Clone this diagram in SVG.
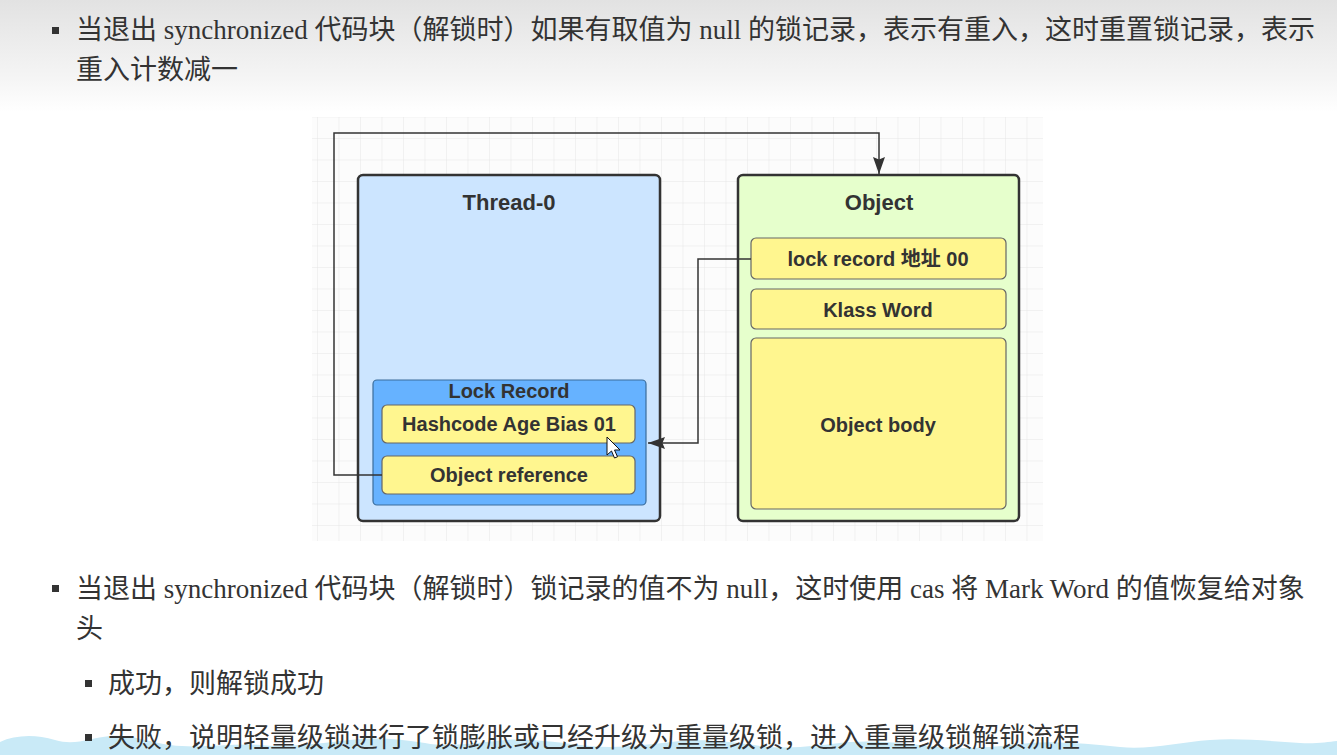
<svg xmlns="http://www.w3.org/2000/svg" width="1337" height="755" viewBox="0 0 1337 755">
<defs>
<linearGradient id="topShade" x1="0" y1="0" x2="0" y2="1">
<stop offset="0" stop-color="#e2e2e2"/>
<stop offset="0.7" stop-color="#f5f5f5"/>
<stop offset="1" stop-color="#ffffff"/>
</linearGradient>
<pattern id="grid" x="317" y="138" width="21.5" height="21.5" patternUnits="userSpaceOnUse">
<path d="M0,0 H21.5 M0,0 V21.5" fill="none" stroke="#e6e6e6" stroke-width="1"/>
</pattern>
<marker id="arr" viewBox="0 0 10 10" refX="10" refY="5" markerWidth="17" markerHeight="12" preserveAspectRatio="none" orient="auto" markerUnits="userSpaceOnUse">
<path d="M0,0 L10,5 L0,10 L1.5,5 z" fill="#333333"/>
</marker>
<style>
.para{font-family:"Liberation Serif","Noto Sans CJK SC",serif;font-size:27px;fill:#333333}
.bullet{fill:#333333}
.box{stroke:#333333;stroke-width:2.5}
.cell{fill:#fff68f;stroke:#666666;stroke-width:1.2}
.title{font-family:"Liberation Sans","Noto Sans CJK SC",sans-serif;font-weight:bold;font-size:22px;fill:#333333;text-anchor:middle}
.lbl{font-family:"Liberation Sans","Noto Sans CJK SC",sans-serif;font-weight:bold;font-size:20px;fill:#333333;text-anchor:middle}
.conn{fill:none;stroke:#333333;stroke-width:1.5}
</style>
</defs>

<rect x="0" y="0" width="1337" height="755" fill="#ffffff"/>
<rect x="0" y="0" width="1337" height="112" fill="url(#topShade)"/>

<!-- grid canvas -->
<rect x="312" y="117" width="731" height="424" fill="#fcfcfc"/>
<rect x="312" y="117" width="731" height="424" fill="url(#grid)"/>

<!-- paragraph 1 -->
<g id="para1">
<rect class="bullet" x="52" y="27" width="7" height="7"/>
<text class="para" x="76" y="39">当退出 synchronized 代码块（解锁时）如果有取值为 null 的锁记录，表示有重入，这时重置锁记录，表示</text>
<text class="para" x="76" y="79">重入计数减一</text>
</g>

<!-- diagram nodes -->
<g id="thread0">
<rect class="box" x="358" y="175" width="302" height="346" rx="5" fill="#cce5ff"/>
<text class="title" x="509" y="210">Thread-0</text>
</g>

<g id="lockRecord">
<rect x="373" y="380" width="273" height="125" rx="4" fill="#66b2ff" stroke="#3a6d9c" stroke-width="1.2"/>
<text class="lbl" x="509" y="398">Lock Record</text>
</g>

<g id="hashcode">
<rect class="cell" x="382" y="405" width="253" height="38" rx="5"/>
<text class="lbl" x="509" y="431">Hashcode Age Bias 01</text>
</g>

<g id="objectReference">
<rect class="cell" x="382" y="456" width="253" height="38" rx="5"/>
<text class="lbl" x="509" y="482">Object reference</text>
</g>

<g id="object">
<rect class="box" x="738" y="175" width="281" height="346" rx="5" fill="#e6ffcc"/>
<text class="title" x="879" y="210">Object</text>
</g>

<g id="lockRecordAddr">
<rect class="cell" x="751" y="238" width="255" height="41" rx="5"/>
<text class="lbl" x="878" y="266">lock record 地址 00</text>
</g>

<g id="klassWord">
<rect class="cell" x="751" y="289" width="255" height="40" rx="5"/>
<text class="lbl" x="878" y="317">Klass Word</text>
</g>

<g id="objectBody">
<rect class="cell" x="751" y="338" width="255" height="171" rx="5"/>
<text class="lbl" x="878" y="432">Object body</text>
</g>

<!-- connectors -->
<g id="connectors">
<path class="conn" d="M382,475 H334 V133 H879 V174" marker-end="url(#arr)"/>
<path class="conn" d="M751,259 H698 V443 H648" marker-end="url(#arr)"/>
</g>

<!-- mouse cursor -->
<path d="M607,437 L607,455 L611.5,451 L614.5,458 L617.5,456.8 L614.5,450 L620,450 Z" fill="#ffffff" stroke="#111111" stroke-width="1"/>

<!-- bottom wave decoration -->
<path d="M0,755 L0,742 C15,735 35,734 55,740 C75,746 90,738 110,736 C130,734 150,742 170,745 C200,749 230,743 260,745 C290,748 320,743 350,740 C375,737 400,739 425,743 C450,748 480,742 505,740 C530,738 560,743 590,746 C620,749 650,744 680,741 C705,739 735,742 760,746 C790,750 820,745 850,742 C880,740 910,744 940,747 C970,750 1000,746 1030,743 C1060,741 1090,744 1120,747 C1150,750 1180,742 1210,740 C1240,738 1270,741 1300,743 C1315,744 1328,742 1337,741 L1337,755 Z" fill="#c9eaf7"/>

<!-- paragraph 2 -->
<g id="para2">
<rect class="bullet" x="52" y="585" width="7" height="7"/>
<text class="para" x="76" y="598">当退出 synchronized 代码块（解锁时）锁记录的值不为 null，这时使用 cas 将 Mark Word 的值恢复给对象</text>
<text class="para" x="76" y="638">头</text>
<rect class="bullet" x="85" y="680" width="7" height="7"/>
<text class="para" x="108" y="693">成功，则解锁成功</text>
<rect class="bullet" x="85" y="734" width="7" height="7"/>
<text class="para" x="108" y="747">失败，说明轻量级锁进行了锁膨胀或已经升级为重量级锁，进入重量级锁解锁流程</text>
</g>
</svg>
